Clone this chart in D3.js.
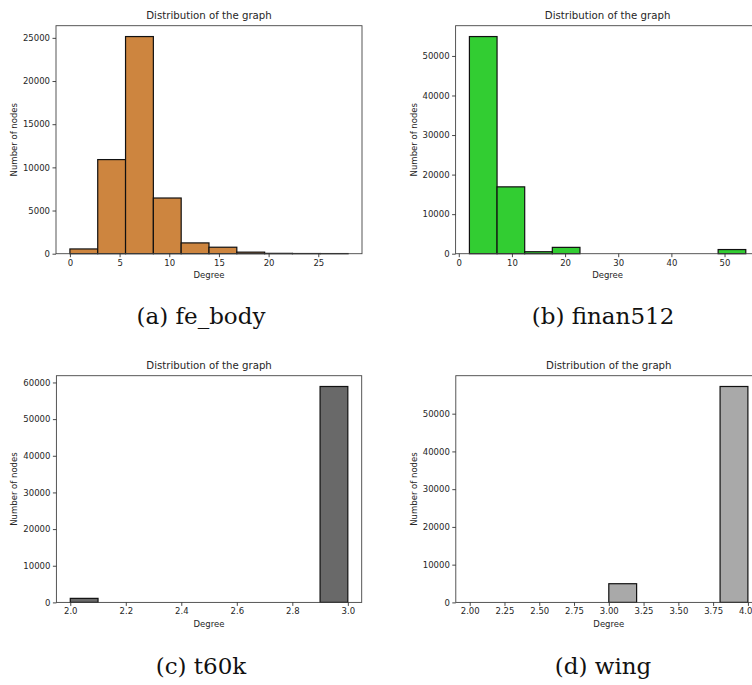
<!DOCTYPE html>
<html>
<head>
<meta charset="utf-8">
<script src="https://cdn.jsdelivr.net/npm/d3@7"></script>
<style>
  html, body { margin: 0; padding: 0; background: #fff; overflow: hidden; }
  svg { display: block; }
</style>
</head>
<body>
<svg id="chart" width="752" height="685"></svg>
<script>
// ---- data ----
const chartTitle = "Distribution of the graph";
const xLabel = "Degree";
const yLabel = "Number of nodes";

const feBodyEdges  = [0, 2.8, 5.6, 8.4, 11.2, 14, 16.8, 19.6, 22.4, 25.2, 28];
const feBodyCounts = [550, 10900, 25150, 6450, 1250, 750, 180, 40, 20, 15];
const feBodyXTicks = [0, 5, 10, 15, 20, 25];
const feBodyYTicks = [0, 5000, 10000, 15000, 20000, 25000];

const finanEdges  = [2, 7.2, 12.4, 17.6, 22.8, 28, 33.2, 38.4, 43.6, 48.8, 54];
const finanCounts = [54900, 16900, 500, 1600, 0, 0, 0, 0, 0, 1050];
const finanXTicks = [0, 10, 20, 30, 40, 50];
const finanYTicks = [0, 10000, 20000, 30000, 40000, 50000];

const t60kEdges  = [2.0, 2.1, 2.2, 2.3, 2.4, 2.5, 2.6, 2.7, 2.8, 2.9, 3.0];
const t60kCounts = [1100, 0, 0, 0, 0, 0, 0, 0, 0, 58900];
const t60kXTicks = [2.0, 2.2, 2.4, 2.6, 2.8, 3.0];
const t60kYTicks = [0, 10000, 20000, 30000, 40000, 50000, 60000];

const wingEdges  = [2.0, 2.2, 2.4, 2.6, 2.8, 3.0, 3.2, 3.4, 3.6, 3.8, 4.0];
const wingCounts = [0, 0, 0, 0, 0, 4950, 0, 0, 0, 57200];
const wingXTicks = [2.0, 2.25, 2.5, 2.75, 3.0, 3.25, 3.5, 3.75, 4.0];
const wingYTicks = [0, 10000, 20000, 30000, 40000, 50000];

const captions = ["(a) fe_body", "(b) finan512", "(c) t60k", "(d) wing"];
const fills = ["#cd853f", "#32cd32", "#696969", "#a9a9a9"];

// ---- layout ----
const panels = [
  {edges: feBodyEdges, counts: feBodyCounts, xt: feBodyXTicks, yt: feBodyYTicks, fmt: d3.format("d"),
   left: 56, top: 25.7, w: 306, h: 228, capX: 201, fill: fills[0], cap: captions[0]},
  {edges: finanEdges, counts: finanCounts, xt: finanXTicks, yt: finanYTicks, fmt: d3.format("d"),
   left: 455.6, top: 25.7, w: 304, h: 228, capX: 603, fill: fills[1], cap: captions[1]},
  {edges: t60kEdges, counts: t60kCounts, xt: t60kXTicks, yt: t60kYTicks, fmt: d3.format(".1f"),
   left: 56.4, top: 375.7, w: 305.3, h: 226.7, capX: 201, fill: fills[2], cap: captions[2]},
  {edges: wingEdges, counts: wingCounts, xt: wingXTicks, yt: wingYTicks, fmt: d3.format(".2f"),
   left: 455.8, top: 375.7, w: 306, h: 226.7, capX: 603, fill: fills[3], cap: captions[3]},
];

const svg = d3.select("#chart");
const tickFont = "DejaVu Sans, sans-serif";
const textColor = "#262626";

panels.forEach(p => {
  const lo = p.edges[0], hi = p.edges[p.edges.length - 1];
  const pad = (hi - lo) * 0.05;
  const x = d3.scaleLinear().domain([lo - pad, hi + pad]).range([0, p.w]);
  const yMax = d3.max(p.counts) * 1.05;
  const y = d3.scaleLinear().domain([0, yMax]).range([p.h, 0]);

  const g = svg.append("g").attr("transform", `translate(${p.left},${p.top})`);

  const bins = p.counts.map((c, i) => ({x0: p.edges[i], x1: p.edges[i + 1], c}));

  g.selectAll("rect.bar").data(bins).join("rect")
    .attr("class", "bar")
    .attr("x", d => x(d.x0))
    .attr("width", d => x(d.x1) - x(d.x0))
    .attr("y", d => y(d.c))
    .attr("height", d => y(0) - y(d.c))
    .attr("fill", p.fill)
    .attr("stroke", "#111")
    .attr("stroke-width", 1.2);

  // spines
  g.append("rect")
    .attr("x", 0).attr("y", 0).attr("width", p.w).attr("height", p.h)
    .attr("fill", "none").attr("stroke", "#444").attr("stroke-width", 0.9);

  // x axis
  const xa = g.append("g").attr("transform", `translate(0,${p.h})`)
    .call(d3.axisBottom(x).tickValues(p.xt).tickFormat(p.fmt).tickSize(3.5).tickPadding(2.5));
  xa.select(".domain").remove();
  xa.selectAll("line").attr("stroke", "#333").attr("stroke-width", 0.9);
  xa.selectAll("text").attr("font-family", tickFont).attr("font-size", 8.5).attr("fill", textColor);

  // y axis
  const ya = g.append("g")
    .call(d3.axisLeft(y).tickValues(p.yt).tickFormat(d3.format("d")).tickSize(3.5).tickPadding(2.5));
  ya.select(".domain").remove();
  ya.selectAll("line").attr("stroke", "#333").attr("stroke-width", 0.9);
  ya.selectAll("text").attr("font-family", tickFont).attr("font-size", 8.5).attr("fill", textColor);

  // title
  g.append("text")
    .attr("x", p.w / 2).attr("y", -7.2)
    .attr("text-anchor", "middle")
    .attr("font-family", tickFont).attr("font-size", 10.2).attr("fill", textColor)
    .text(chartTitle);

  // x label
  g.append("text")
    .attr("x", p.w / 2).attr("y", p.h + 24.5)
    .attr("text-anchor", "middle")
    .attr("font-family", tickFont).attr("font-size", 8.5).attr("fill", textColor)
    .text(xLabel);

  // y label
  g.append("text")
    .attr("transform", `translate(-39,${p.h / 2}) rotate(-90)`)
    .attr("text-anchor", "middle")
    .attr("font-family", tickFont).attr("font-size", 8.5).attr("fill", textColor)
    .text(yLabel);

  // caption
  svg.append("text")
    .attr("x", p.capX).attr("y", p.top + 298.6)
    .attr("text-anchor", "middle")
    .attr("font-family", "DejaVu Serif, serif").attr("font-size", 23).attr("fill", "#111")
    .text(p.cap);
});
</script>
</body>
</html>
